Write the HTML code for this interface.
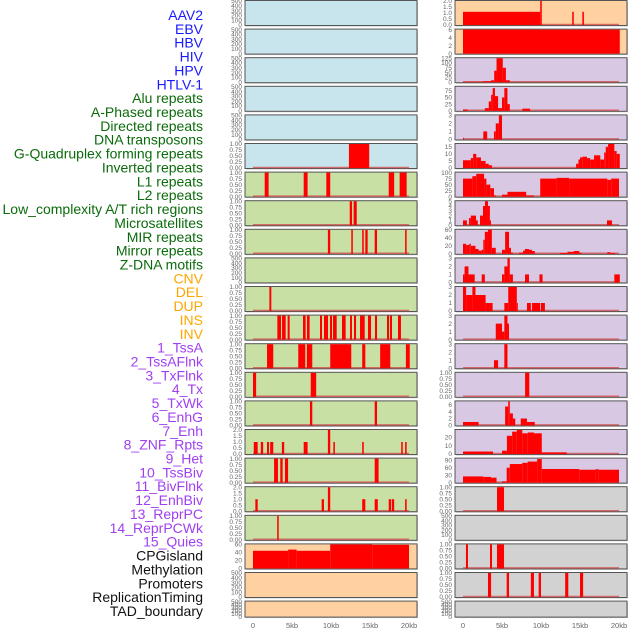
<!DOCTYPE html>
<html><head><meta charset="utf-8">
<style>
html,body{margin:0;padding:0;background:#fff;}
svg{display:block;}
.lbl{font-family:"Liberation Sans",sans-serif;font-size:14px;text-anchor:end;}
.tk{font-family:"Liberation Sans",sans-serif;font-size:6.5px;fill:#666;text-anchor:end;}
.xt{font-family:"Liberation Sans",sans-serif;font-size:7.5px;fill:#666;text-anchor:middle;}
</style></head>
<body>
<svg id="chart" width="630" height="630" viewBox="0 0 630 630" xmlns="http://www.w3.org/2000/svg"></svg>
<script>
const trackNames = ["AAV2","EBV","HBV","HIV","HPV","HTLV-1","Alu repeats","A-Phased repeats","Directed repeats","DNA transposons","G-Quadruplex forming repeats","Inverted repeats","L1 repeats","L2 repeats","Low_complexity A/T rich regions","Microsatellites","MIR repeats","Mirror repeats","Z-DNA motifs","CNV","DEL","DUP","INS","INV","1_TssA","2_TssAFlnk","3_TxFlnk","4_Tx","5_TxWk","6_EnhG","7_Enh","8_ZNF_Rpts","9_Het","10_TssBiv","11_BivFlnk","12_EnhBiv","13_ReprPC","14_ReprPCWk","15_Quies","CPGisland","Methylation","Promoters","ReplicationTiming","TAD_boundary"];
const trackGroup = ["v","v","v","v","v","v","r","r","r","r","r","r","r","r","r","r","r","r","r","s","s","s","s","s","c","c","c","c","c","c","c","c","c","c","c","c","c","c","c","o","o","o","o","o"];
const trackMax = [500,500,500,500,500,1,1,1,1,500,1,1,1,1,1,2,1,2,1,60,500,500,2,6,125,90,3,17,100,5,60,3,3,3,3,1,7,29,97,1,500,1,1,500];
const trackTicks = [
 [0,100,200,300,400,500],[0,100,200,300,400,500],[0,100,200,300,400,500],[0,100,200,300,400,500],[0,100,200,300,400,500],
 [0,0.25,0.5,0.75,1],[0,0.25,0.5,0.75,1],[0,0.25,0.5,0.75,1],[0,0.25,0.5,0.75,1],[0,100,200,300,400,500],
 [0,0.25,0.5,0.75,1],[0,0.25,0.5,0.75,1],[0,0.25,0.5,0.75,1],[0,0.25,0.5,0.75,1],[0,0.25,0.5,0.75,1],
 [0,0.5,1,1.5,2],[0,0.25,0.5,0.75,1],[0,0.5,1,1.5,2],[0,0.25,0.5,0.75,1],[0,20,40,60],
 [0,100,200,300,400,500],[0,100,200,300,400,500],[0,0.5,1,1.5,2],[0,2,4,6],[0,25,50,75,100,125],
 [0,25,50,75],[0,1,2,3],[0,5,10,15],[0,25,50,75,100],[0,1,2,3,4,5],
 [0,20,40,60],[0,1,2,3],[0,1,2,3],[0,1,2,3],[0,1,2,3],
 [0,0.25,0.5,0.75,1],[0,2,4,6],[0,10,20],[0,30,60,90],[0,0.25,0.5,0.75,1],
 [0,100,200,300,400,500],[0,0.25,0.5,0.75,1],[0,0.25,0.5,0.75,1],[0,100,200,300,400,500]
];
// segments: [startKb, endKb, value]
const trackSegs = [
 [],[],[],[],[],
 [[12.3,14.9,1]],
 [[1.5,2.0,1],[6.5,7.0,1],[9.4,9.9,1],[17.4,18.1,1],[18.8,19.7,1]],
 [[12.4,12.7,1],[12.9,13.3,1]],
 [[9.6,9.9,1],[12.6,12.8,1],[14.0,14.2,1],[14.4,14.7,1],[15.6,15.9,1],[19.5,19.7,1]],
 [],
 [[2.1,2.35,1]],
 [[3.12,3.59,1],[3.72,4.19,1],[4.44,4.7,1],[6.41,6.75,1],[6.92,7.26,1],[8.59,8.85,1],[9.1,9.62,1],[9.87,10.13,1],[10.26,10.73,1],[11.41,11.88,1],[12.44,12.69,1],[12.95,13.21,1],[13.72,14.32,1],[14.74,15.13,1],[15.64,15.9,1],[17.18,17.44,1],[17.56,17.82,1],[18.59,18.97,1]],
 [[1.8,2.6,1],[5.8,6.7,1],[6.9,7.6,1],[9.9,12.6,1],[14.0,14.4,1],[16.3,17.6,1],[19.6,20.1,1]],
 [[0.0,0.4,1],[7.4,8.1,1]],
 [[7.3,7.6,1],[15.6,15.9,1]],
 [[0.1,0.6,1],[1.0,1.3,1],[1.8,2.05,1],[2.2,2.6,1],[3.7,4.0,1],[6.5,7.0,1],[9.6,9.9,2],[10.3,10.5,1],[14.0,14.2,1],[19.0,19.2,1],[19.5,19.7,1]],
 [[2.7,3.2,1],[3.5,3.8,1],[4.1,4.5,1],[15.6,16.1,1]],
 [[0.3,0.6,1],[8.8,9.1,1],[9.6,9.9,2],[14.0,14.4,1],[15.6,16.0,1],[17.4,17.7,1],[17.8,18.1,1],[19.5,19.7,1]],
 [[3.1,3.3,1]],
 [[0,4.5,44],[4.5,5.6,47],[5.6,9.9,44],[9.9,15.3,60],[15.3,20,59]],
 [],[],
 [[0,9.9,1.1],[9.9,10.1,2],[14.0,14.2,1.1],[15.3,15.5,1.1]],
 [[0,20.1,6]],
 [[0,2.6,2],[2.6,3.6,5],[3.6,4.0,10],[4.0,4.3,60],[4.3,5.1,125],[5.1,5.5,75],[5.5,6.0,10]],
 [[0,0.6,5],[2.8,3.3,10],[3.3,3.6,35],[3.6,3.8,60],[3.8,4.1,85],[4.1,4.5,55],[4.5,5.0,10],[5.0,5.3,50],[5.3,5.7,85],[5.7,6.0,25],[7.6,8.6,8]],
 [[0,0.1,0.2],[2.6,3.1,1],[3.97,4.2,1],[4.2,4.6,2],[4.6,5.0,3]],
 [[0,1.0,5.5],[1.0,1.3,7],[1.3,1.7,10],[1.7,2.3,7.5],[2.3,2.9,5],[2.9,3.3,3],[3.3,3.7,2],[14.5,14.8,3],[14.8,15.0,6],[15.0,15.3,7.5],[15.3,15.9,8],[15.9,16.3,7],[16.3,16.8,6],[16.8,17.6,9],[17.6,18.1,6],[18.1,18.3,11],[18.3,18.6,15],[18.6,19.4,17],[19.4,19.7,12],[19.7,20.1,10]],
 [[0,1.2,75],[1.2,1.7,85],[1.7,2.7,95],[2.7,3.0,75],[3.0,3.5,50],[3.5,3.97,35],[3.97,4.2,5],[5.0,5.7,8],[5.7,8.1,20],[8.1,9.1,5],[9.9,12.0,75],[12.0,13.6,78],[13.6,18.5,75],[18.5,19.0,70],[19.0,20.0,75]],
 [[0,0.5,1],[0.77,1.0,1.5],[1.0,1.67,2],[1.67,1.9,1],[2.18,2.56,2],[2.56,2.82,4],[2.82,3.2,5],[3.2,3.45,4],[3.45,3.59,1],[18.46,19.1,1]],
 [[0,0.4,25],[0.4,0.8,22],[0.8,1.0,25],[1.0,1.6,20],[1.6,2.0,12],[2.0,2.4,8],[2.4,2.6,10],[2.6,2.8,35],[2.8,3.2,55],[3.2,3.7,60],[3.7,4.2,15],[5.0,5.4,10],[5.4,5.9,55],[5.9,6.15,15],[6.15,6.4,3],[7.2,7.7,3],[7.7,7.95,8],[7.95,8.46,12],[8.46,8.85,10],[8.85,9.2,7],[12.4,13.4,2],[13.4,14.2,5],[14.2,14.9,7],[14.9,15.2,3],[18.5,18.9,4],[18.9,19.5,2]],
 [[0,0.2,1],[0.2,0.7,2],[0.7,1.5,1],[2.4,2.8,1],[5.0,5.3,1],[5.3,5.7,2],[5.7,6.0,3],[6.0,6.4,1],[7.95,8.46,1],[9.8,10.2,1],[19.4,20.1,1]],
 [[0,0.4,3],[0.4,1.2,2],[1.2,1.6,3],[1.6,2.9,2],[2.9,3.8,1],[5.3,5.8,1],[5.8,6.9,3],[6.9,7.0,1],[8.2,8.7,1],[8.85,9.9,1],[10.0,10.5,1]],
 [[4.2,5.0,2],[5.0,5.3,1],[5.3,5.7,3],[5.7,5.9,2]],
 [[3.97,4.5,1],[5.3,5.7,3]],
 [[7.96,8.5,1]],
 [[0,2.0,1],[5.4,5.8,5.5],[5.8,6.0,7],[6.0,6.4,3.5],[6.4,6.7,2],[7.4,8.2,2],[8.2,9.2,1]],
 [[0,1.28,3],[1.28,3.85,3],[5.0,5.63,4],[5.63,6.3,22],[6.3,6.9,27],[6.9,7.6,29],[7.6,8.3,25],[8.3,9.1,26],[9.1,10.1,25],[10.1,13.3,2]],
 [[0,2.6,25],[2.6,3.6,23],[3.6,4.3,20],[5.0,5.6,5],[5.6,6.0,60],[6.0,7.6,75],[7.6,8.3,80],[8.3,9.5,85],[9.5,10.1,95],[10.1,14.9,55],[14.9,17.0,52],[17.0,17.4,54],[17.4,20.0,52]],
 [[4.36,5.26,1]],
 [],
 [[0.38,0.64,1],[3.46,3.72,1],[4.36,5.26,1]],
 [[3.2,3.6,1],[5.6,5.9,1],[8.7,9.1,1],[9.7,10.0,1],[13.1,13.5,1],[15.0,15.4,1]],
 []
];
const xTickLabels = ["0","5kb","10kb","15kb","20kb"];
const xTickValues = [0,5,10,15,20];

const NS="http://www.w3.org/2000/svg";
const svg=document.getElementById('chart');
function mk(tag,attrs,parent){const e=document.createElementNS(NS,tag);for(const k in attrs)e.setAttribute(k,attrs[k]);(parent||svg).appendChild(e);return e;}
const labelColor={v:"#1a1aff",r:"#0b6b0b",s:"#ffa500",c:"#a040f0",o:"#111"};
const bgColor={v:"#c8e4ec",r:"#c8e0a4",s:"#ffd0a0",c:"#d8c8e4",o:"#d2d2d2"};
bgColor.s="#ffd0a0";

// labels
trackNames.forEach((n,i)=>{
  const t=mk('text',{x:203,y:15+i*13.86+5,class:'lbl',fill:labelColor[trackGroup[i]]});
  t.textContent=n;
  
  
});

function xScale(col,kb){return (col===0?253:463)+kb*7.8;}
trackNames.forEach((n,i)=>{
  const col=i<22?0:1, row=i%22;
  const top=row*28.6+0.5, h=(row===21?16:25);
  const left=col===0?245:455, w=172;
  const g=mk('g',{});
  
  
  let bg=bgColor[trackGroup[i]];
  if(i===22||i===23) bg="#ffd0a0";
  mk('rect',{x:left+1,y:top+1,width:w,height:h,fill:'#999',opacity:0.5},g);
  mk('rect',{x:left,y:top,width:w,height:h,fill:bg,stroke:'#555','stroke-width':1},g);
  const max=trackMax[i];
  const y0=top+h-0.5, y1=top+0.5;
  const yS=v=>y0-(v/max)*(y0-y1);
  const segs=trackSegs[i];
  if(segs.length){
    mk('line',{x1:xScale(col,0),x2:xScale(col,20),y1:y0-0.5,y2:y0-0.5,stroke:'#d05050','stroke-width':1.5,opacity:0.8},g);
  }
  segs.forEach(s=>{
    const r=mk('rect',{x:xScale(col,s[0]),y:yS(s[2]),width:Math.max(1,xScale(col,s[1])-xScale(col,s[0])),height:y0-yS(s[2]),fill:'#ff0000'},g);
    
    
  });
  trackTicks[i].forEach(tv=>{
    const t=mk('text',{x:left-3,y:yS(tv)+2.2,class:'tk'},g);
    t.textContent=(max===1?tv.toFixed(2):(max===2?tv.toFixed(1):String(tv)));
  });
});
// x axes
[0,1].forEach(col=>{
  xTickValues.forEach((v,k)=>{
    const t=mk('text',{x:xScale(col,v),y:628,class:'xt'});
    t.textContent=xTickLabels[k];
    
    
  });
});
</script>
</body></html>
